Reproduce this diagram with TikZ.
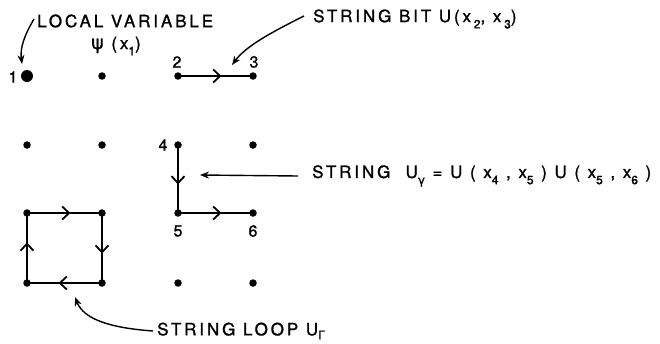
\documentclass[tikz,border=0pt]{standalone}
\usepackage{fontspec}
\setmainfont{TeX Gyre Heros}[LetterSpace=17,FakeBold=1.2]
\newfontfamily\grk{DejaVu Sans}[FakeBold=0.8]
\usetikzlibrary{arrows.meta,decorations.markings}
\newcommand{\lsub}[1]{\raisebox{-0.7ex}{\fontsize{12}{12}\selectfont #1}}
\begin{document}
\begin{tikzpicture}[x=1pt,y=-1pt,
  dot/.style={circle,fill,inner sep=0pt,minimum size=7.5pt},
  bigdot/.style={circle,fill,inner sep=0pt,minimum size=12pt},
  lnk/.style={line width=1.8pt,postaction={decorate},
    decoration={markings,mark=at position 0.58 with {\arrow{Straight Barb[length=7pt,width=13pt]}}}},
  lbl/.style={font=\fontsize{17}{18}\selectfont,inner sep=0pt,anchor=west},
  num/.style={font=\fontsize{16}{17}\selectfont,inner sep=0pt},
  lead/.style={line width=1.4pt,-{Stealth[length=9pt,width=7pt]}}]
\useasboundingbox (0,0) rectangle (660,343);
% grid
\node[bigdot] (a1) at (27,76) {};
\node[dot] (b1) at (102,76) {};
\node[dot] (c1) at (178,76) {};
\node[dot] (d1) at (253,76) {};
\node[dot] (a2) at (27,145) {};
\node[dot] (b2) at (102,145) {};
\node[dot] (c2) at (178,145) {};
\node[dot] (d2) at (253,145) {};
\node[dot] (a3) at (27,213) {};
\node[dot] (b3) at (102,213) {};
\node[dot] (c3) at (178,213) {};
\node[dot] (d3) at (253,213) {};
\node[dot] (a4) at (27,283) {};
\node[dot] (b4) at (102,283) {};
\node[dot] (c4) at (178,283) {};
\node[dot] (d4) at (253,283) {};
% numbers
\node[num] (n1) at (13,77) {1};
\node[num] (n2) at (177,62) {2};
\node[num] (n3) at (254,62) {3};
\node[num] (n4) at (163,145) {4};
\node[num] (n5) at (178,231) {5};
\node[num] (n6) at (253,231) {6};
% links
\draw[lnk] (c1.center) -- (d1.center);
\draw[lnk] (c2.center) -- (c3.center);
\draw[lnk] (c3.center) -- (d3.center);
\draw[lnk] (a3.center) -- (b3.center);
\draw[lnk] (b3.center) -- (b4.center);
\draw[lnk] (b4.center) -- (a4.center);
\draw[lnk] (a4.center) -- (a3.center);
% labels
\node[lbl] (lv) at (37,21) {LOCAL VARIABLE};
\node[lbl] (psi) at (91,46) {{\fontsize{19}{19}\selectfont\grk ψ} (x\lsub{1})};
\node[lbl] (sb) at (313,19) {STRING BIT U(x\,\lsub{2}, x\,\lsub{3})};
\node[lbl] (sg) at (312,176) {STRING\ \ U\lsub{\grk γ} = U ( x\lsub{4} , x\lsub{5} ) U ( x\lsub{5} , x\lsub{6} )};
\node[lbl] (sl) at (157,331) {STRING LOOP U\raisebox{-0.45ex}{\fontsize{12}{12}\selectfont\grk Γ}};
% leaders
\coordinate (t1) at (22,64);
\coordinate (t2) at (232,65);
\coordinate (t3) at (200,175);
\coordinate (t4) at (75,297);
\draw[lead] ([xshift=-3pt,yshift=2pt]lv.west) .. controls (24,36) and (20,48) .. (t1);
\draw[lead] ([xshift=-9pt,yshift=3pt]sb.west) .. controls (272,32) and (246,46) .. (t2);
\draw[lead] ([xshift=-14pt]sg.west) -- (t3);
\draw[lead] ([xshift=-4pt,yshift=0pt]sl.west) .. controls (112,328) and (84,320) .. (t4);
\end{tikzpicture}
\end{document}
